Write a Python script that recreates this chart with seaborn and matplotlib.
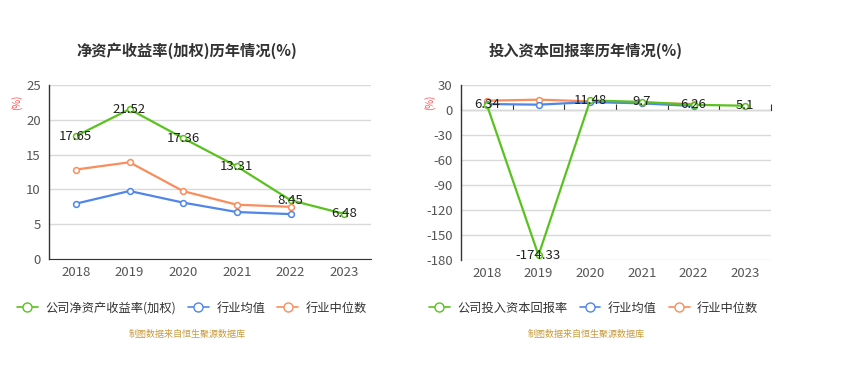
import numpy as np
import pandas as pd
import matplotlib
matplotlib.use('Agg')
import matplotlib.pyplot as plt
from matplotlib.lines import Line2D
import seaborn as sns

years = ['2018', '2019', '2020', '2021', '2022', '2023']

# 净资产收益率(加权)
roe_company = [17.65, 21.52, 17.36, 13.31, 8.45, 6.48]
roe_mean = [7.95, 9.77, 8.1, 6.75, 6.45, np.nan]
roe_median = [12.85, 13.9, 9.75, 7.8, 7.5, np.nan]

# 投入资本回报率
roic_company = [6.34, -174.33, 11.48, 9.7, 6.26, 5.1]
roic_mean = [7.2, 6.4, 9.5, 8.0, 4.8, np.nan]
roic_median = [11.2, 12.4, 10.4, 8.4, 7.2, np.nan]

GREEN = '#5ac21e'
BLUE = '#5086e8'
ORANGE = '#f98d5c'

sns.set_style('white')
plt.rcParams['font.family'] = ['Noto Sans CJK SC', 'DejaVu Sans']
plt.rcParams['axes.unicode_minus'] = False


def make_df(company, mean, median):
    rows = []
    for name, vals in [('company', company), ('mean', mean), ('median', median)]:
        for y, v in zip(years, vals):
            rows.append({'year': y, 'value': v, 'series': name})
    return pd.DataFrame(rows)


def draw(ax, company, mean, median, yticks, pct_x, zero_frac=None):
    df = make_df(company, mean, median)
    palette = {'company': GREEN, 'mean': BLUE, 'median': ORANGE}
    # company drawn last so it sits on top
    for name in ['median', 'mean', 'company']:
        sub = df[df['series'] == name].dropna()
        sns.lineplot(data=sub, x='year', y='value', ax=ax, color=palette[name],
                     linewidth=1.6, marker='o', markersize=4.2,
                     markerfacecolor='white', markeredgecolor=palette[name],
                     markeredgewidth=1.1, legend=False, zorder=3, sort=False)
    for i, v in enumerate(company):
        ax.text(i, v, f'{v:g}', ha='center', va='center', fontsize=9.5,
                color='#222222', zorder=4)

    ax.set_xlim(-0.5, len(years) - 0.5)
    ax.set_ylim(yticks[0], yticks[-1])
    ax.set_yticks(yticks)
    ax.set_xlabel('')
    ax.set_ylabel('')
    ax.grid(axis='y', color='#d9d9d9', linewidth=1)
    ax.grid(axis='x', visible=False)
    ax.set_axisbelow(True)
    for s in ['top', 'right']:
        ax.spines[s].set_visible(False)
    ax.spines['left'].set_color('#333333')
    ax.spines['left'].set_linewidth(1)
    ax.tick_params(axis='y', length=4, color='#333333', labelsize=9.5,
                   labelcolor='#555555', pad=2)
    ax.set_xticks(range(len(years)))
    ax.set_xticklabels(years)
    bounds = np.arange(-0.5, len(years) + 0.5, 1)
    ax.tick_params(axis='x', which='major', length=0, labelsize=9.5,
                   labelcolor='#555555', pad=5)
    if zero_frac is None:
        ax.spines['bottom'].set_color('#333333')
        ax.set_xticks(bounds, minor=True)
        ax.tick_params(axis='x', which='minor', length=4, color='#333333')
    else:
        ax.spines['bottom'].set_visible(False)
        sec = ax.secondary_xaxis(zero_frac)
        sec.set_xticks(bounds)
        sec.set_xticklabels([])
        sec.tick_params(length=4, color='#333333')
        sec.spines['bottom'].set_color('#333333')
    ax.text(pct_x, 0.9, '(%)', transform=ax.transAxes, rotation=90,
            fontsize=7, color='#ff4d4f', ha='center', va='center')
    return ax


fig = plt.figure(figsize=(8.52, 3.78), dpi=100)

ax1 = fig.add_axes([49 / 852, 1 - 259 / 378, 322 / 852, 174 / 378])
draw(ax1, roe_company, roe_mean, roe_median, [0, 5, 10, 15, 20, 25],
     pct_x=(17 - 49) / 322)

ax2 = fig.add_axes([461 / 852, 1 - 260 / 378, 310 / 852, 175 / 378])
draw(ax2, roic_company, roic_mean, roic_median,
     [-180, -150, -120, -90, -60, -30, 0, 30],
     pct_x=(430 - 461) / 310, zero_frac=180 / 210)

fig.text(187 / 852, 1 - 51 / 378, '净资产收益率(加权)历年情况(%)', ha='center',
         va='center', fontsize=11, fontweight='bold', color='#333333')
fig.text(586 / 852, 1 - 51 / 378, '投入资本回报率历年情况(%)', ha='center',
         va='center', fontsize=11, fontweight='bold', color='#333333')


def legend_handle(c):
    return Line2D([0], [0], color=c, linewidth=1.2, marker='o', markersize=6.5,
                  markerfacecolor='white', markeredgecolor=c, markeredgewidth=1)


leg_kw = dict(loc='center left', ncol=3, frameon=False, fontsize=8.8,
              handlelength=1.7, handletextpad=0.6, columnspacing=1.0,
              labelcolor='#333333')
fig.legend([legend_handle(GREEN), legend_handle(BLUE), legend_handle(ORANGE)],
           ['公司净资产收益率(加权)', '行业均值', '行业中位数'],
           bbox_to_anchor=(6 / 852, 1 - 308 / 378), **leg_kw)
fig.legend([legend_handle(GREEN), legend_handle(BLUE), legend_handle(ORANGE)],
           ['公司投入资本回报率', '行业均值', '行业中位数'],
           bbox_to_anchor=(418 / 852, 1 - 308 / 378), **leg_kw)

fig.text(187 / 852, 1 - 334 / 378, '制图数据来自恒生聚源数据库', ha='center',
         va='center', fontsize=6.5, color='#c99a3c')
fig.text(586 / 852, 1 - 334 / 378, '制图数据来自恒生聚源数据库', ha='center',
         va='center', fontsize=6.5, color='#c99a3c')

fig.savefig('out.png', dpi=100)
